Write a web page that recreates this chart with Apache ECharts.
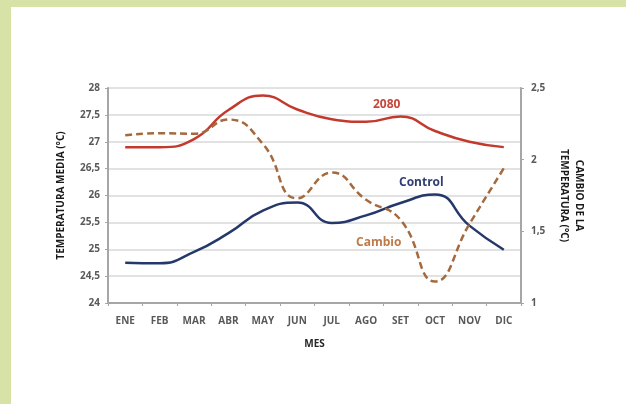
<!DOCTYPE html>
<html>
<head>
<meta charset="utf-8">
<script src="https://cdn.jsdelivr.net/npm/echarts@6/dist/echarts.min.js"></script>
<style>
html,body{margin:0;padding:0;width:626px;height:404px;background:#d6e2a6;overflow:hidden;}
#panel{position:absolute;left:11px;top:7px;width:615px;height:397px;background:#ffffff;}
#chart{position:absolute;left:0;top:0;width:626px;height:404px;}
</style>
</head>
<body>
<div id="panel"></div>
<div id="chart"></div>
<script>
// Data
var months = ['ENE','FEB','MAR','ABR','MAY','JUN','JUL','AGO','SET','OCT','NOV','DIC'];
var series2080 = [26.9, 26.9, 27.05, 27.59, 27.86, 27.6, 27.42, 27.37, 27.47, 27.2, 27.0, 26.9];
var seriesControl = [24.75, 24.74, 24.95, 25.3, 25.72, 25.87, 25.49, 25.63, 25.86, 26.02, 25.44, 24.99];
var seriesCambio = [2.17, 2.185, 2.18, 2.28, 2.11, 1.73, 1.91, 1.72, 1.58, 1.15, 1.55, 1.94];
var leftTicks = {min: 24, max: 28, interval: 0.5};
var rightTicks = {min: 1, max: 2.5, interval: 0.5};
var labels = {s2080: '2080', control: 'Control', cambio: 'Cambio'};

var FONT = "'Liberation Sans Narrow','Open Sans',sans-serif";
function fmt(v){ return String(v).replace('.', ','); }

var chart = echarts.init(document.getElementById('chart'), null, {renderer: 'canvas'});
var option = {
  backgroundColor: 'transparent',
  animation: false,
  grid: {left: 108, right: 105, top: 88, bottom: 101},
  xAxis: {
    type: 'category',
    data: months,
    boundaryGap: true,
    name: 'MES',
    nameLocation: 'middle',
    nameGap: 36,
    nameTextStyle: {fontFamily: FONT, fontWeight: 'bold', fontSize: 10, color: '#262626'},
    axisLine: {lineStyle: {color: '#a6a6a6', width: 2}},
    axisTick: {show: true, length: 3, lineStyle: {color: '#a6a6a6'}},
    axisLabel: {fontFamily: FONT, fontWeight: 'bold', fontSize: 10, color: '#595959', margin: 13}
  },
  yAxis: [
    {
      type: 'value',
      min: leftTicks.min, max: leftTicks.max, interval: leftTicks.interval,
      name: 'TEMPERATURA MEDIA (°C)',
      nameLocation: 'middle',
      nameGap: 42,
      nameRotate: 90,
      nameTextStyle: {fontFamily: FONT, fontWeight: 'bold', fontSize: 10, color: '#1a1a1a'},
      axisLine: {show: true, lineStyle: {color: '#a6a6a6', width: 2}},
      axisTick: {show: true, length: 3, lineStyle: {color: '#a6a6a6'}},
      axisLabel: {fontFamily: FONT, fontWeight: 'bold', fontSize: 10, color: '#595959', margin: 8, formatter: fmt},
      splitLine: {show: true, lineStyle: {color: '#d9d9d9', width: 1.5}}
    },
    {
      type: 'value',
      position: 'right',
      min: rightTicks.min, max: rightTicks.max, interval: rightTicks.interval,
      name: 'CAMBIO DE LA\nTEMPERATURA (°C)',
      nameLocation: 'middle',
      nameGap: 34,
      nameRotate: -90,
      nameTextStyle: {fontFamily: FONT, fontWeight: 'bold', fontSize: 10, color: '#1a1a1a', lineHeight: 15},
      axisLine: {show: true, lineStyle: {color: '#a6a6a6', width: 2}},
      axisTick: {show: true, length: 3, lineStyle: {color: '#a6a6a6'}},
      axisLabel: {fontFamily: FONT, fontWeight: 'bold', fontSize: 10, color: '#595959', margin: 10, formatter: fmt},
      splitLine: {show: false}
    }
  ],
  series: [
    {
      name: labels.s2080, type: 'line', yAxisIndex: 0, data: series2080,
      smooth: 0.5, symbol: 'none',
      lineStyle: {color: '#c2392e', width: 2.5}
    },
    {
      name: labels.control, type: 'line', yAxisIndex: 0, data: seriesControl,
      smooth: 0.5, symbol: 'none',
      lineStyle: {color: '#25386a', width: 2.5}
    },
    {
      name: labels.cambio, type: 'line', yAxisIndex: 1, data: seriesCambio,
      smooth: 0.5, symbol: 'none',
      lineStyle: {color: '#a46a3e', width: 2.5, type: [7, 4]}
    }
  ],
  graphic: [
    {type: 'text', left: 373, top: 99, style: {text: labels.s2080, fill: '#c8463a', font: "bold 12px " + FONT}},
    {type: 'text', left: 399, top: 177, style: {text: labels.control, fill: '#2f3f73', font: "bold 12px " + FONT}},
    {type: 'text', left: 356, top: 237, style: {text: labels.cambio, fill: '#c07a48', font: "bold 12px " + FONT}}
  ]
};
chart.setOption(option);
</script>
</body>
</html>
